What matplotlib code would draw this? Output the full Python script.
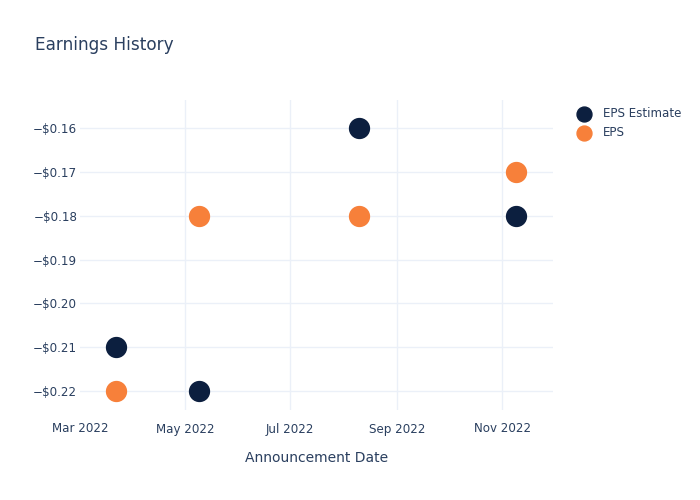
import numpy as np
import pandas as pd
import matplotlib
matplotlib.use('Agg')
import matplotlib.pyplot as plt
from matplotlib.ticker import FuncFormatter

# Earnings data
dates = pd.to_datetime(['2022-03-22', '2022-05-09', '2022-08-10', '2022-11-09'])
eps_estimate = [-0.21, -0.22, -0.16, -0.18]
eps_actual = [-0.22, -0.18, -0.18, -0.17]
tick_dates = pd.to_datetime(['2022-03-01', '2022-05-01', '2022-07-01',
                             '2022-09-01', '2022-11-01'])
tick_labels = ['Mar 2022', 'May 2022', 'Jul 2022', 'Sep 2022', 'Nov 2022']
y_ticks = [-0.22, -0.21, -0.20, -0.19, -0.18, -0.17, -0.16]

text_color = '#2a3f5f'
grid_color = '#ebf0f8'
navy = '#0c1f3f'
orange = '#f7803a'

fig = plt.figure(figsize=(7, 5), dpi=100)
ax = fig.add_axes([80 / 700, 0.18, (553 - 80) / 700, 0.62])

ax.scatter(dates, eps_estimate, s=205, color=navy, label='EPS Estimate', zorder=3)
ax.scatter(dates, eps_actual, s=205, color=orange, label='EPS', zorder=3)

ax.set_xlim(pd.Timestamp('2022-03-01'), pd.Timestamp('2022-11-30 12:00'))
ax.set_ylim(-0.2243, -0.1536)

ax.set_xticks(tick_dates)
ax.set_xticklabels(tick_labels)
ax.set_yticks(y_ticks)
ax.yaxis.set_major_formatter(FuncFormatter(
    lambda v, p: ('\u2212$%.2f' % abs(v)) if v < 0 else ('$%.2f' % v)))

ax.grid(True, color=grid_color, linewidth=1, zorder=0)
ax.set_axisbelow(True)
ax.get_xgridlines()[0].set_visible(False)  # left edge line not drawn
for s in ax.spines.values():
    s.set_visible(False)
ax.tick_params(length=0, colors=text_color, labelsize=8.6)
ax.tick_params(axis='x', pad=9)
ax.tick_params(axis='y', pad=2)

ax.set_xlabel('Announcement Date', color=text_color, fontsize=10, labelpad=11)

fig.text(0.05, 0.91, 'Earnings History', color=text_color, fontsize=12.2,
         va='center', ha='left')

leg = ax.legend(loc='upper left', bbox_to_anchor=(1.017, 1.012), frameon=False,
                fontsize=8.6, labelcolor=text_color, handletextpad=0.6,
                labelspacing=0.48, markerscale=0.75)

fig.savefig('out.png', dpi=100)
